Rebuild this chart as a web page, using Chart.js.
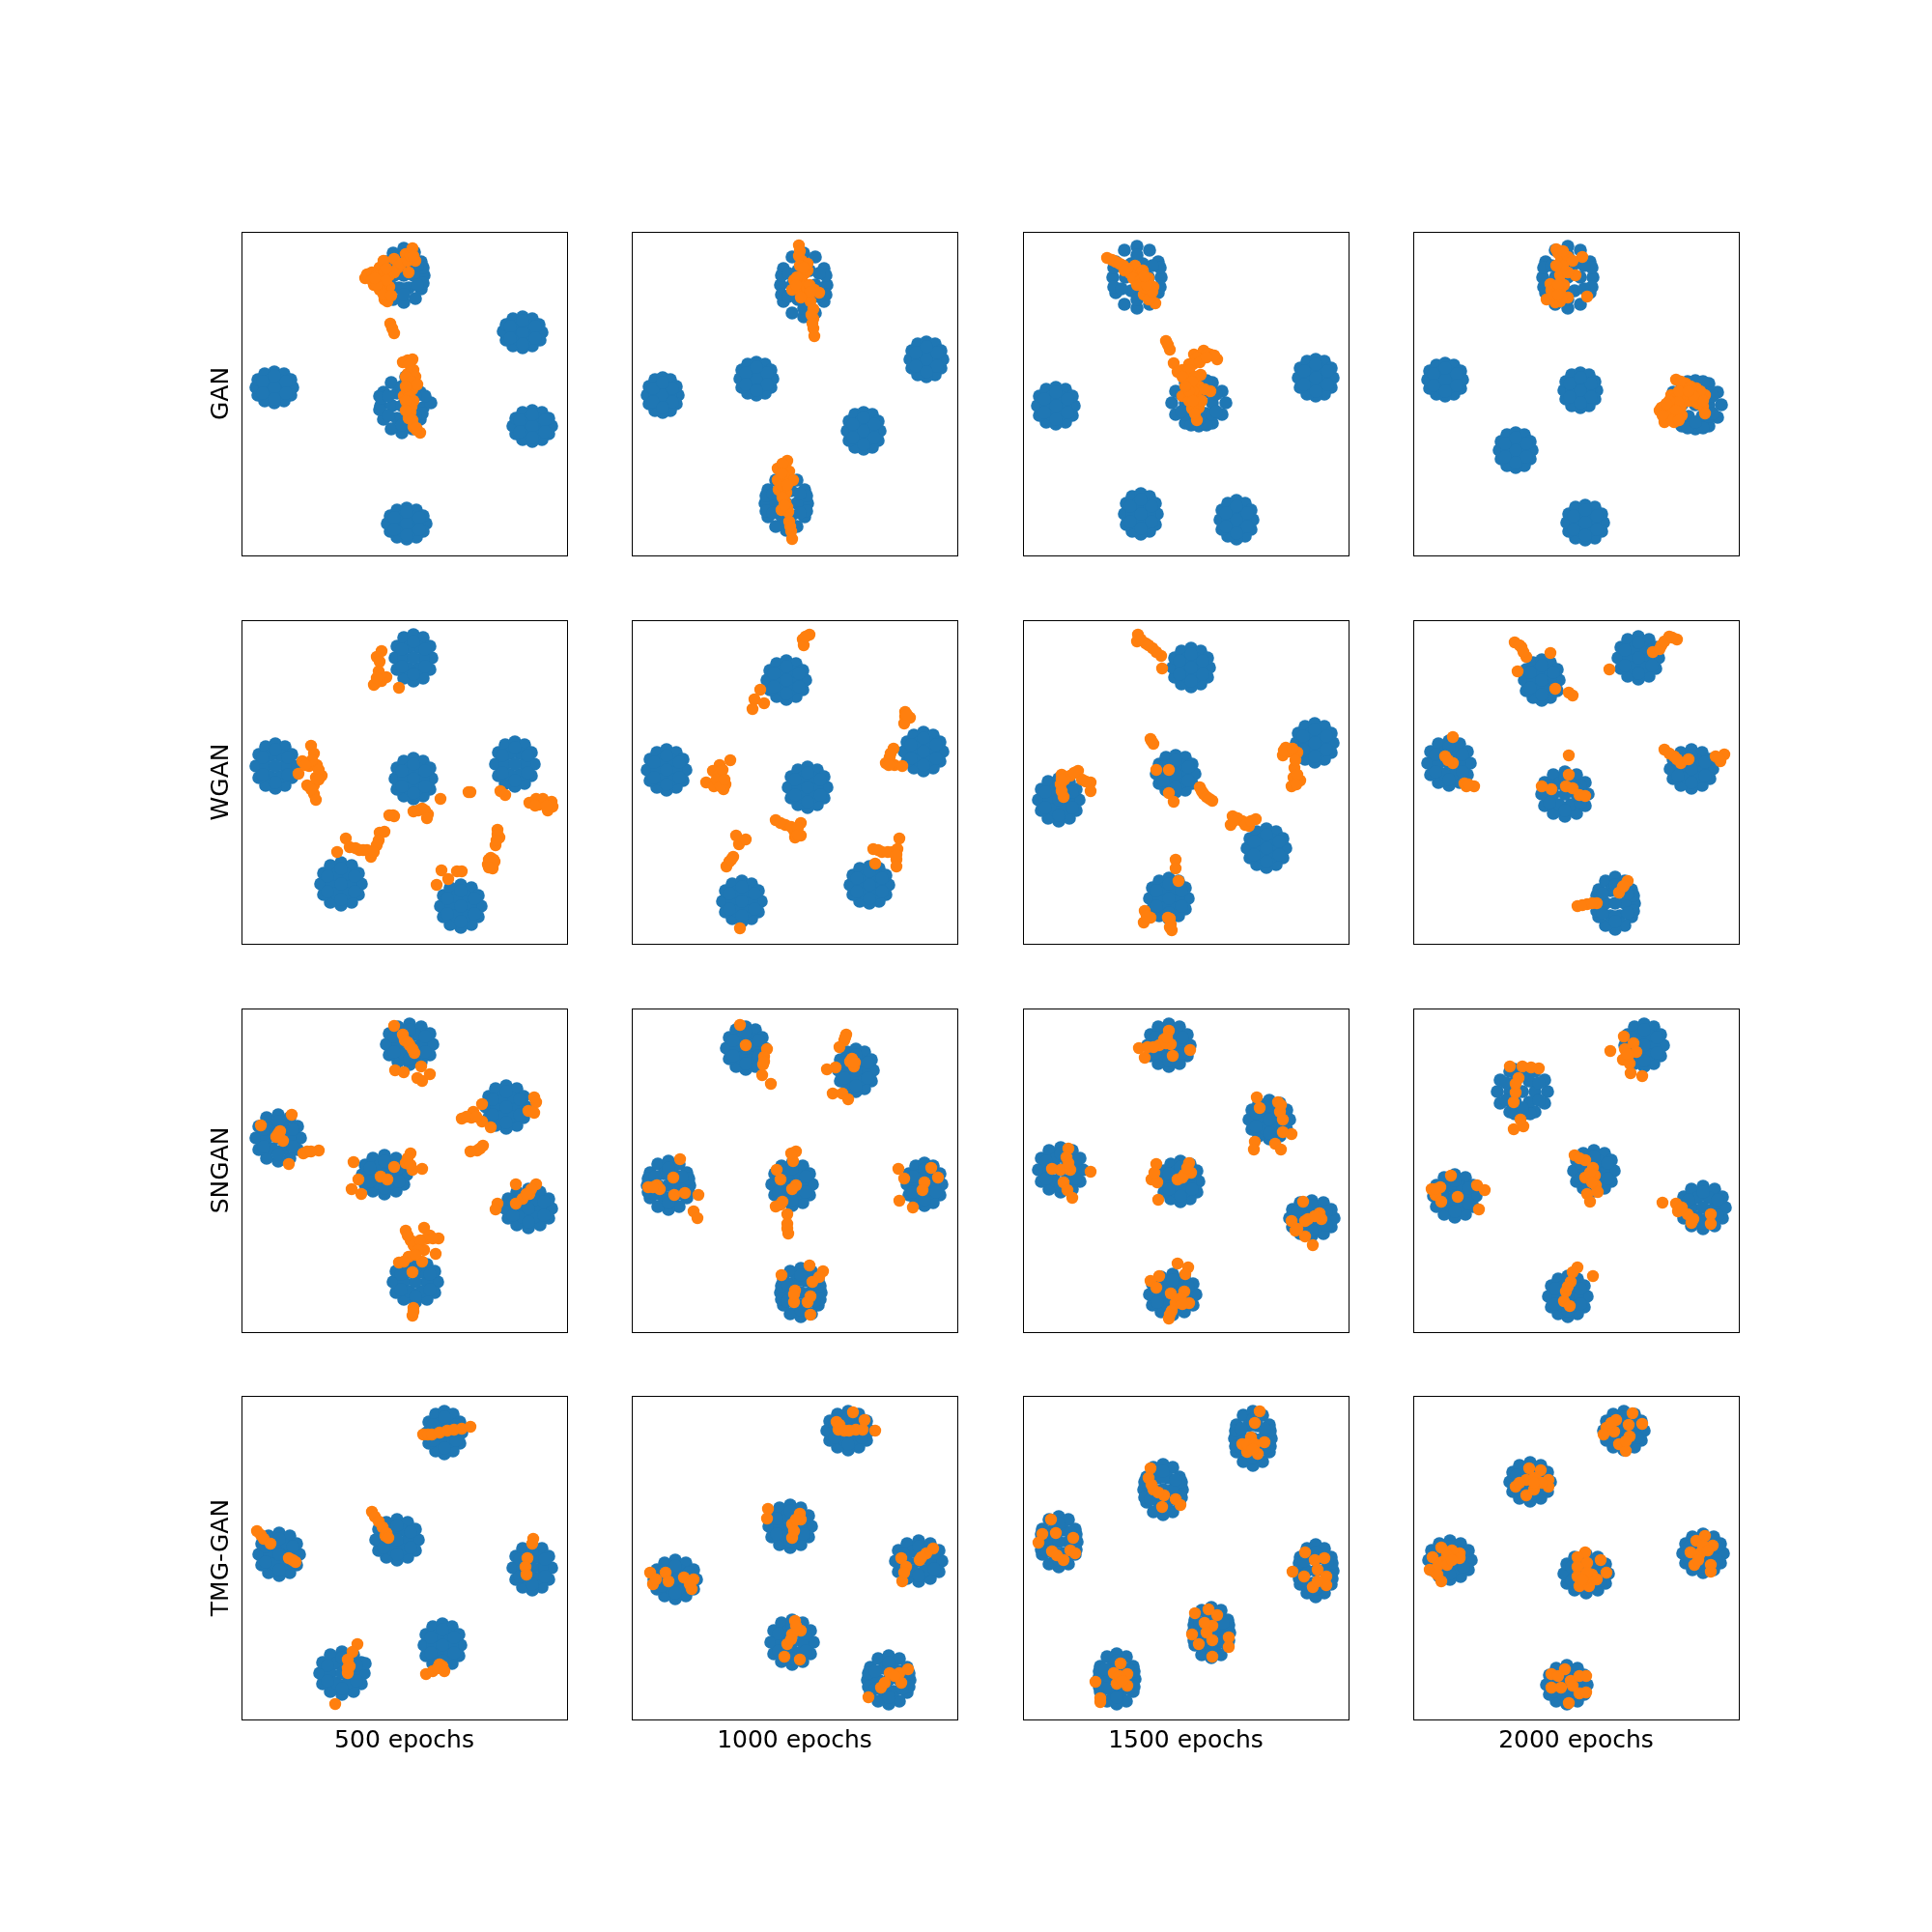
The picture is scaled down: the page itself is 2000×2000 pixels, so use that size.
<!DOCTYPE html>
<html><head><meta charset="utf-8">
<script src="https://cdn.jsdelivr.net/npm/chart.js@4"></script>
<style>html,body{margin:0;padding:0;background:#fff;width:2000px;height:2000px;overflow:hidden}canvas{position:absolute}</style>
</head><body>
<script>
const methods = ["GAN","WGAN","SNGAN","TMG-GAN"];
const epochs = ["500 epochs","1000 epochs","1500 epochs","2000 epochs"];

const GAN_500_BLUE = [
189,45,186,59,180,69,168,73,157,70,150,59,147,46,150,31,157,22,168,17,179,21,186,31,178,45,158,45,173,32,163,32,173,58,163,58,168,45,188,53,188,37,148,53,148,37,168,59,168,31,182,35,154,35,182,55,154,55,168,25,168,65,
311,104,309,112,301,118,291,120,281,118,274,112,271,103,274,96,281,90,291,88,301,90,308,96,301,104,281,104,296,97,286,97,296,111,286,111,291,104,304,98,278,98,304,110,278,110,291,92,291,116,
53,161,51,169,44,175,34,177,24,175,17,169,15,161,17,153,24,147,34,145,44,147,51,153,44,161,24,161,39,154,29,154,39,168,29,168,34,161,46,155,22,155,46,167,22,167,34,149,34,173,
188,182,185,194,177,204,166,208,155,204,147,194,144,180,147,166,155,156,170,150,177,156,185,166,176,180,156,180,171,167,161,167,171,193,161,193,166,180,196,177,190,170,143,170,143,184,187,188,145,172,166,194,166,166,180,170,152,170,180,190,152,190,166,160,166,200,
321,201,318,209,311,215,301,217,291,215,284,209,281,201,284,193,291,187,301,185,311,187,318,193,311,201,291,201,306,194,296,194,306,208,296,208,301,201,314,195,288,195,314,207,288,207,301,189,301,213,
191,302,188,310,181,316,171,318,161,316,154,310,151,302,154,294,161,288,171,286,181,288,188,294,181,302,161,302,176,295,166,295,176,309,166,309,171,302,184,296,158,296,184,308,158,308,171,290,171,314];
const GAN_500_ORANGE = [128,48,143,37,143,50,150,63,151,72,137,55,130,44,147,30,153,45,162,37,170,23,177,17,180,30,173,42,153,57,135,42,158,28,135,50,140,45,148,42,145,55,150,50,158,42,165,33,172,30,175,25,178,25,150,38,143,60,148,70,140,55,147,65,155,66,138,48,
154,95,156,100,158,105,
172,133,177,132,167,135,178,143,172,147,180,150,173,157,177,163,168,170,178,175,172,180,175,187,173,193,178,202,185,208,181,205,174,137,170,150,176,155,171,163,174,170,176,181,170,175,177,195,181,203,170,160,182,158,170,185];

const GAN_1000_BLUE = [
202,55,199,72,190,84,178,88,166,84,157,72,154,55,157,38,166,26,178,22,190,26,199,38,190,55,166,55,184,40,172,40,184,70,172,70,178,55,201,65,201,45,155,65,155,45,178,71,178,39,194,43,162,43,194,67,162,67,178,31,178,79,
322,132,320,141,314,148,305,150,296,148,290,141,288,132,290,123,296,116,305,114,314,116,320,123,314,132,296,132,309,124,301,124,309,140,301,140,305,132,316,125,294,125,316,139,294,139,305,119,305,145,
146,152,144,161,138,167,129,169,120,167,114,161,112,152,114,143,120,137,129,135,138,137,144,143,138,152,120,152,133,144,125,144,133,160,125,160,129,152,140,146,118,146,140,158,118,158,129,140,129,164,
48,169,46,178,40,185,32,187,24,185,18,178,16,169,18,160,24,153,32,151,40,153,46,160,40,169,24,169,36,161,28,161,36,177,28,177,32,169,42,162,22,162,42,176,22,176,32,156,32,182,
257,206,255,216,249,223,240,225,231,223,225,216,223,206,225,196,231,189,240,187,249,189,255,196,249,206,231,206,244,197,236,197,244,215,236,215,240,206,251,199,229,199,251,213,229,213,240,192,240,220,
182,281,179,295,171,305,160,309,149,305,141,295,138,281,141,267,149,257,160,253,171,257,179,267,171,281,149,281,165,268,155,268,165,294,155,294,160,281,181,289,181,273,139,289,139,273,160,295,160,267,174,271,146,271,174,291,146,291,160,261,160,301];
const GAN_1000_ORANGE = [173,14,174,20,176,30,182,40,179,43,168,50,166,60,177,63,189,60,194,63,185,72,188,80,188,90,188,100,189,108,176,50,173,25,182,33,174,35,178,37,172,56,180,56,184,55,183,67,171,47,186,86,187,95,170,55,185,62,175,68,
161,237,151,245,163,248,151,257,167,257,152,267,160,270,159,280,155,288,162,290,163,300,165,310,166,318,156,240,157,252,158,263,155,262,156,275,161,285,158,283,164,305,155,250,161,262];

const GAN_1500_BLUE = [
143,47,140,63,131,75,118,79,105,75,96,63,93,47,96,31,105,19,118,15,131,19,140,31,130,47,106,47,124,33,112,33,124,61,112,61,118,47,142,57,142,37,94,57,94,37,118,63,118,31,134,35,102,35,134,59,102,59,118,24,118,70,
53,180,51,190,44,197,34,199,24,197,17,190,15,180,17,170,24,163,34,161,44,163,51,170,44,180,24,180,39,171,29,171,39,189,29,189,34,180,46,173,22,173,46,187,22,187,34,166,34,194,
321,151,319,161,312,168,303,170,294,168,287,161,285,151,287,141,294,134,303,132,312,134,319,141,312,151,294,151,307,142,299,142,307,160,299,160,303,151,315,144,291,144,315,158,291,158,303,137,303,165,
210,177,206,189,196,198,182,201,168,198,158,189,154,177,158,165,168,156,182,153,196,156,206,165,196,177,168,177,189,166,175,166,189,188,175,188,182,177,190,200,174,200,190,154,174,154,196,165,168,165,196,189,168,189,200,168,164,168,200,186,164,186,182,160,182,194,
139,292,137,303,131,310,122,313,113,310,107,303,105,292,107,281,113,274,122,271,131,274,137,281,131,292,113,292,126,282,118,282,126,302,118,302,122,292,133,284,111,284,133,300,111,300,122,277,122,307,
238,298,236,308,230,315,221,318,212,315,206,308,204,298,206,288,212,281,221,278,230,281,236,288,230,298,212,298,225,289,217,289,225,307,217,307,221,298,232,291,210,291,232,305,210,305,221,284,221,312];
const GAN_1500_ORANGE = [87,27,96,31,104,35,116,35,111,43,118,55,130,48,135,57,125,65,137,74,132,68,123,42,92,29,100,33,108,38,114,48,122,50,124,40,127,58,130,70,134,62,105,40,120,55,128,55,126,46,
148,113,152,122,156,136,177,127,187,123,201,132,194,127,172,137,165,143,184,148,168,153,182,160,165,170,194,165,179,170,175,183,182,182,180,195,150,117,160,145,180,130,191,126,198,128,176,137,172,143,170,160,178,150,176,165,188,163,172,175,178,188,165,150,175,155,172,165,185,175,176,175,183,135,190,130,168,160];

const GAN_2000_BLUE = [
186,47,183,63,173,75,160,79,147,75,137,63,134,47,137,31,147,19,160,15,173,19,183,31,173,47,147,47,167,33,153,33,167,61,153,61,160,47,185,57,185,37,135,57,135,37,160,63,160,31,177,35,143,35,177,59,143,59,160,24,160,70,
51,153,49,162,42,168,33,170,24,168,17,162,15,153,17,144,24,138,33,136,42,138,49,144,42,153,24,153,37,145,29,145,37,161,29,161,33,153,45,147,21,147,45,159,21,159,33,141,33,165,
190,164,188,173,182,180,173,182,164,180,158,173,156,164,158,155,164,148,173,146,182,148,188,155,182,164,164,164,177,156,169,156,177,172,169,172,173,164,184,157,162,157,184,171,162,171,173,151,173,177,
123,226,121,235,115,242,106,244,97,242,91,235,89,226,91,217,97,210,106,208,115,210,121,217,115,226,97,226,110,218,102,218,110,234,102,234,106,226,117,219,95,219,117,233,95,233,106,213,106,239,
319,179,315,192,306,201,292,204,278,201,269,192,265,179,269,166,278,157,292,154,306,157,315,166,306,179,278,179,299,167,285,167,299,191,285,191,292,179,300,203,284,203,300,155,284,155,306,167,278,167,306,191,278,191,310,170,274,170,310,188,274,188,292,161,292,197,
197,301,195,310,188,317,178,319,168,317,161,310,159,301,161,292,168,285,178,283,188,285,195,292,188,301,168,301,183,293,173,293,183,309,173,309,178,301,190,294,166,294,190,308,166,308,178,288,178,314];
const GAN_2000_ORANGE = [148,18,153,28,175,26,160,26,152,45,168,45,160,42,142,54,138,70,147,73,160,68,152,61,180,67,143,61,150,22,155,35,148,35,156,55,146,60,152,72,154,68,155,20,165,30,150,55,145,65,150,65,
272,153,282,157,293,162,302,169,267,169,280,169,292,176,300,181,302,188,257,182,267,181,277,181,260,197,270,197,278,190,263,188,277,155,287,160,297,165,272,172,285,175,295,178,275,175,265,175,300,175,265,190,272,185,255,185,283,168,268,195,290,170,275,165,285,165,262,178,258,190,275,195];

const WGAN_500_BLUE = [
197,39,195,51,188,60,178,63,168,60,161,51,159,39,161,27,168,18,178,15,188,18,195,27,188,39,168,39,183,28,173,28,183,50,173,50,178,39,190,30,166,30,190,48,166,48,178,22,178,56,
55,151,52,163,45,171,35,174,25,171,18,163,15,151,18,139,25,131,35,128,45,131,52,139,45,151,25,151,40,140,30,140,40,162,30,162,35,151,48,142,22,142,48,160,22,160,35,134,35,168,
197,164,195,175,188,182,178,185,168,182,161,175,159,164,161,153,168,146,178,143,188,146,195,153,188,164,168,164,183,154,173,154,183,174,173,174,178,164,190,156,166,156,190,172,166,172,178,149,178,179,
303,149,300,161,293,169,283,172,273,169,266,161,263,149,266,137,273,129,283,126,293,129,300,137,293,149,273,149,288,138,278,138,288,160,278,160,283,149,296,140,270,140,296,158,270,158,283,132,283,166,
124,273,121,284,114,292,103,295,92,292,85,284,82,273,85,262,92,254,103,251,114,254,121,262,113,273,93,273,108,263,98,263,108,283,98,283,103,273,117,265,89,265,117,281,89,281,103,257,103,289,
248,296,245,307,238,315,227,318,216,315,209,307,206,296,209,285,216,277,227,274,238,277,245,285,237,296,217,296,232,286,222,286,232,306,222,306,227,296,241,288,213,288,241,304,213,304,227,280,227,312];
const WGAN_500_ORANGE = [145,32,140,38,143,43,142,53,150,59,145,63,137,67,139,65,163,70,143,58,140,60,
72,130,75,138,63,146,70,151,78,150,59,159,83,161,77,163,68,171,75,171,75,180,77,186,73,145,66,150,80,155,80,165,72,175,
206,185,237,178,268,177,273,181,298,189,305,185,312,185,308,191,317,197,321,188,322,193,313,190,304,192,316,192,235,178,
187,195,178,198,193,201,157,202,158,203,153,202,183,197,190,197,192,205,
143,220,148,219,142,228,108,226,112,235,122,238,130,238,134,245,140,233,99,240,118,236,126,238,137,240,
265,217,267,225,263,233,258,246,255,253,260,257,261,248,256,248,262,250,256,256,265,222,264,228,
207,259,214,268,202,274,223,260,228,260];

const WGAN_1000_BLUE = [
180,62,177,72,170,79,160,82,150,79,143,72,140,62,143,52,150,45,160,42,170,45,177,52,170,62,150,62,165,53,155,53,165,71,155,71,160,62,173,55,147,55,173,69,147,69,160,48,160,76,
322,136,319,146,312,153,302,156,292,153,285,146,282,136,285,126,292,119,302,116,312,119,319,126,312,136,292,136,307,127,297,127,307,145,297,145,302,136,315,129,289,129,315,143,289,143,302,122,302,150,
56,155,53,166,46,173,36,176,26,173,19,166,16,155,19,144,26,137,36,134,46,137,53,144,46,155,26,155,41,145,31,145,41,165,31,165,36,155,49,147,23,147,49,163,23,163,36,140,36,170,
202,173,199,184,192,191,182,194,172,191,165,184,162,173,165,162,172,155,182,152,192,155,199,162,192,173,172,173,187,163,177,163,187,183,177,183,182,173,195,165,169,165,195,181,169,181,182,158,182,188,
266,274,263,284,256,291,246,293,236,291,229,284,226,274,229,264,236,257,246,255,256,257,263,264,256,274,236,274,251,265,241,265,251,283,241,283,246,274,259,267,233,267,259,281,233,281,246,260,246,288,
134,291,131,302,124,309,114,312,104,309,97,302,94,291,97,280,104,273,114,270,124,273,131,280,124,291,104,291,119,281,109,281,119,301,109,301,114,291,127,283,101,283,127,299,101,299,114,276,114,306];
const WGAN_1000_ORANGE = [184,15,177,20,178,26,180,17,
133,72,127,82,137,86,125,92,
283,95,283,100,288,101,282,107,285,98,
271,133,267,142,263,148,272,150,280,151,268,138,266,150,
102,145,91,150,84,156,90,160,77,168,85,172,97,170,95,175,94,155,88,165,92,172,96,165,
149,207,159,212,175,210,168,218,175,223,169,225,154,210,165,214,172,215,172,222,
108,223,111,232,118,227,
105,245,101,250,98,255,103,248,
277,226,250,237,259,240,270,240,275,237,274,248,274,255,252,252,255,238,265,240,274,243,
112,319];

const WGAN_1500_BLUE = [
193,49,191,59,184,66,174,69,164,66,157,59,155,49,157,39,164,32,174,29,184,32,191,39,184,49,164,49,179,40,169,40,179,58,169,58,174,49,186,42,162,42,186,56,162,56,174,35,174,63,
321,127,319,137,312,144,302,147,292,144,285,137,283,127,285,117,292,110,302,107,312,110,319,117,312,127,292,127,307,118,297,118,307,136,297,136,302,127,314,120,290,120,314,134,290,134,302,113,302,141,
178,159,175,169,168,176,158,178,148,176,141,169,138,159,141,149,148,142,158,140,168,142,175,149,168,159,148,159,163,150,153,150,163,168,153,168,158,159,171,152,145,152,171,166,145,166,158,145,158,173,
58,186,55,197,48,205,37,208,26,205,19,197,16,186,19,175,26,167,37,164,48,167,55,175,47,186,27,186,42,176,32,176,42,196,32,196,37,186,51,178,23,178,51,194,23,194,37,170,37,202,
272,236,269,246,262,253,252,256,242,253,235,246,232,236,235,226,242,219,252,216,262,219,269,226,262,236,242,236,257,227,247,227,257,245,247,245,252,236,265,229,239,229,265,243,239,243,252,222,252,250,
171,288,168,299,161,306,151,309,141,306,134,299,131,288,134,277,141,270,151,267,161,270,168,277,161,288,141,288,156,278,146,278,156,298,146,298,151,288,164,280,138,280,164,296,138,296,151,273,151,303];
const WGAN_1500_ORANGE = [119,15,118,22,127,24,134,29,143,37,144,50,122,20,130,26,138,33,
132,123,135,128,133,125,138,155,151,155,151,179,156,188,183,173,187,180,196,187,185,177,190,183,193,185,
40,160,49,161,57,156,39,170,42,183,61,165,70,168,70,177,40,177,43,165,40,165,53,158,65,167,
272,132,269,140,284,137,281,153,287,166,278,172,280,163,276,136,270,135,279,133,282,145,284,160,283,170,
217,203,215,212,227,208,241,206,234,213,222,205,218,208,230,212,236,208,
158,248,158,257,161,270,
126,301,125,313,132,308,150,308,153,315,154,321,152,309,152,318,128,306];

const WGAN_2000_BLUE = [
151,62,149,73,142,80,133,83,124,80,117,73,115,62,117,51,124,44,133,41,142,44,149,51,142,62,124,62,137,52,129,52,137,72,129,72,133,62,145,54,121,54,145,70,121,70,133,47,133,77,
254,39,251,50,244,58,233,61,222,58,215,50,212,39,215,28,222,20,233,17,244,20,251,28,243,39,223,39,238,29,228,29,238,49,228,49,233,39,247,31,219,31,247,47,219,47,233,23,233,55,
59,148,56,160,48,168,37,171,26,168,18,160,15,148,18,136,26,128,37,125,48,128,56,136,48,148,26,148,42,137,32,137,42,159,32,159,37,148,51,139,23,139,51,157,23,157,37,131,37,165,
181,180,178,192,169,200,157,203,145,200,136,192,133,180,136,168,145,160,157,157,169,160,178,168,169,180,145,180,163,169,151,169,163,191,151,191,157,180,173,171,141,171,173,189,141,189,157,163,157,197,
310,154,307,164,299,171,288,174,277,171,269,164,266,154,269,144,277,137,288,134,299,137,307,144,299,154,277,154,293,145,283,145,293,163,283,163,288,154,302,147,274,147,302,161,274,161,288,140,288,168,
229,293,226,307,219,316,209,320,199,316,192,307,189,293,192,279,199,270,209,266,219,270,226,279,219,293,199,293,214,280,204,280,214,306,204,306,209,293,228,301,228,285,190,301,190,285,209,307,209,279,222,283,196,283,222,303,196,303,209,274,209,312];
const WGAN_2000_ORANGE = [105,23,112,28,117,38,142,34,108,53,147,71,161,75,165,78,110,26,114,33,
203,51,248,33,257,26,265,17,273,20,255,30,260,22,268,18,
41,121,33,141,41,148,53,169,63,172,55,172,36,145,57,170,
161,140,133,172,143,175,161,160,158,172,165,174,172,181,178,182,
260,134,270,141,277,148,285,144,313,141,322,139,318,146,265,138,273,144,316,143,
170,296,180,294,190,293,213,282,222,270,217,276,175,295,185,293,218,275];

const SNGAN_500_BLUE = [
198,37,195,48,186,55,174,58,162,55,153,48,150,37,153,26,162,19,174,16,186,19,195,26,186,37,162,37,180,27,168,27,180,47,168,47,174,37,190,29,158,29,190,45,158,45,174,22,174,52,
295,102,292,113,285,121,274,124,263,121,256,113,253,102,256,91,263,83,274,80,285,83,292,91,284,102,264,102,279,92,269,92,279,112,269,112,274,102,288,94,260,94,288,110,260,110,274,86,274,118,
61,134,58,146,50,155,38,158,26,155,18,146,15,134,18,122,26,113,38,110,50,113,58,122,50,134,26,134,44,123,32,123,44,145,32,145,38,134,53,125,23,125,53,143,23,143,38,117,38,151,
171,172,168,182,160,189,148,192,136,189,128,182,125,172,128,162,136,155,148,152,160,155,168,162,160,172,136,172,154,163,142,163,154,181,142,181,148,172,163,165,133,165,163,179,133,179,148,158,148,186,
321,207,318,217,309,224,297,227,285,224,276,217,273,207,276,197,285,190,297,187,309,190,318,197,309,207,285,207,303,198,291,198,303,216,291,216,297,207,313,200,281,200,313,214,281,214,297,193,297,221,
203,283,200,294,192,301,180,304,168,301,160,294,157,283,160,272,168,265,180,262,192,265,200,272,192,283,168,283,186,273,174,273,186,293,174,293,180,283,195,275,165,275,195,291,165,291,180,268,180,298];
const SNGAN_500_ORANGE = [158,18,167,27,169,33,174,38,179,46,186,60,159,64,168,66,182,72,187,75,195,68,172,35,177,42,
52,110,20,121,40,127,36,133,43,137,49,161,68,148,80,147,64,150,38,130,72,148,
116,159,158,164,144,174,151,177,175,150,170,160,177,167,187,166,121,177,114,187,124,192,172,155,175,162,
249,99,240,107,228,114,238,113,249,117,258,123,297,106,303,92,305,97,303,108,233,112,243,112,
250,142,244,147,237,148,247,145,
284,182,305,182,298,192,291,197,284,202,265,202,263,208,300,187,295,192,
170,230,189,227,175,240,192,238,204,238,180,248,189,250,201,254,163,263,173,257,187,262,177,273,178,310,177,318,172,235,178,245,185,240,195,235,198,238,183,250,180,255,168,262,178,314];

const SNGAN_1000_BLUE = [
138,41,135,52,128,60,118,63,108,60,101,52,98,41,101,30,108,22,118,19,128,22,135,30,128,41,108,41,123,31,113,31,123,51,113,51,118,41,131,33,105,33,131,49,105,49,118,25,118,57,
250,64,248,75,241,83,232,86,223,83,216,75,214,64,216,53,223,45,232,42,241,45,248,53,241,64,223,64,236,54,228,54,236,74,228,74,232,64,244,56,220,56,244,72,220,72,232,48,232,80,
60,183,57,196,49,205,38,208,27,205,19,196,16,183,19,170,27,161,38,158,49,161,57,170,49,183,27,183,43,171,33,171,43,195,33,195,38,183,59,190,59,176,17,190,17,176,38,196,38,170,52,174,24,174,52,192,24,192,38,165,38,201,
187,182,184,193,177,201,166,204,155,201,148,193,145,182,148,171,155,163,166,160,177,163,184,171,176,182,156,182,171,172,161,172,171,192,161,192,166,182,180,174,152,174,180,190,152,190,166,166,166,198,
321,182,319,193,312,201,303,204,294,201,287,193,285,182,287,171,294,163,303,160,312,163,319,171,312,182,294,182,307,172,299,172,307,192,299,192,303,182,315,174,291,174,315,190,291,190,303,166,303,198,
196,294,193,307,186,316,175,319,164,316,157,307,154,294,157,281,164,272,175,269,186,272,193,281,185,294,165,294,180,282,170,282,180,306,170,306,175,294,195,301,195,287,155,301,155,287,175,307,175,281,189,285,161,285,189,303,161,303,175,276,175,312];
const SNGAN_1000_ORANGE = [112,17,118,38,140,42,137,50,136,58,135,69,144,78,137,55,
222,27,220,33,215,40,211,61,202,63,228,52,230,60,208,88,218,88,224,94,221,30,226,55,231,56,
50,156,43,175,26,183,17,185,29,187,44,193,55,191,69,193,64,210,68,217,22,185,
170,148,167,158,150,167,154,177,170,183,166,187,156,200,149,205,161,213,161,223,162,233,161,228,154,203,165,150,
276,166,282,176,310,165,317,175,303,180,301,188,277,199,291,206,
184,266,198,272,194,278,187,283,155,276,169,292,168,304,182,304,185,317,185,298,168,296];

const SNGAN_1500_BLUE = [
173,38,170,49,162,57,151,60,140,57,132,49,129,38,132,27,140,19,151,16,162,19,170,27,162,38,140,38,156,28,146,28,156,48,146,48,151,38,165,30,137,30,165,46,137,46,151,22,151,54,
276,115,273,125,266,132,255,135,244,132,237,125,234,115,237,105,244,98,255,95,266,98,273,105,265,115,245,115,260,106,250,106,260,124,250,124,255,115,269,108,241,108,269,122,241,122,255,101,255,129,
62,167,59,179,51,187,39,190,27,187,19,179,16,167,19,155,27,147,39,144,51,147,59,155,51,167,27,167,45,156,33,156,45,178,33,178,39,167,54,158,24,158,54,176,24,176,39,150,39,184,
182,179,180,190,173,197,163,200,153,197,146,190,144,179,146,168,153,161,163,158,173,161,180,168,173,179,153,179,168,169,158,169,168,189,158,189,163,179,175,171,151,171,175,187,151,187,163,164,163,194,
322,217,319,226,311,233,299,235,287,233,279,226,276,217,279,208,287,201,299,199,311,201,319,208,311,217,287,217,305,209,293,209,305,225,293,225,299,217,314,210,284,210,314,224,284,224,299,204,299,230,
179,296,176,307,167,314,155,317,143,314,134,307,131,296,134,285,143,278,155,275,167,278,176,285,167,296,143,296,161,286,149,286,161,306,149,306,155,296,171,288,139,288,171,304,139,304,155,281,155,311];
const SNGAN_1500_ORANGE = [120,41,129,40,126,51,141,38,151,23,146,32,153,37,155,49,173,43,135,40,148,36,149,30,
242,92,245,103,264,97,266,107,269,115,269,128,278,130,240,138,239,146,261,140,267,146,267,100,
47,145,45,154,30,166,39,167,49,167,42,180,46,188,51,196,70,169,47,160,
138,161,133,177,139,180,140,198,172,160,167,172,160,177,174,170,136,170,165,175,170,165,
290,200,278,220,282,230,292,236,300,245,295,218,307,212,309,218,284,228,292,220,302,215,
160,264,171,268,141,277,132,282,138,289,168,275,153,295,167,293,158,305,172,305,154,313,151,321,163,300,165,306,152,317];

const SNGAN_2000_BLUE = [
259,38,256,49,249,57,239,60,229,57,222,49,219,38,222,27,229,19,239,16,249,19,256,27,249,38,229,38,244,28,234,28,244,48,234,48,239,38,252,30,226,30,252,46,226,46,239,22,239,54,
139,86,136,98,126,107,113,110,100,107,90,98,87,86,90,74,100,65,113,62,126,65,136,74,126,86,100,86,120,75,106,75,120,97,106,97,113,86,121,109,105,109,121,63,105,63,130,77,96,77,130,95,96,95,113,69,113,103,
208,168,205,179,198,186,187,189,176,186,169,179,166,168,169,157,176,150,187,147,198,150,205,157,197,168,177,168,192,158,182,158,192,178,182,178,187,168,201,160,173,160,201,176,173,176,187,153,187,183,
65,194,62,205,54,213,43,216,32,213,24,205,21,194,24,183,32,175,43,172,54,175,62,183,54,194,32,194,48,184,38,184,48,204,38,204,43,194,57,186,29,186,57,202,29,202,43,178,43,210,
323,206,320,217,312,225,300,228,288,225,280,217,277,206,280,195,288,187,300,184,312,187,320,195,312,206,288,206,306,196,294,196,306,216,294,216,300,206,315,198,285,198,315,214,285,214,300,190,300,222,
180,298,177,309,170,316,160,319,150,316,143,309,140,298,143,287,150,280,160,277,170,280,177,287,170,298,150,298,165,288,155,288,165,308,155,308,160,298,173,290,147,290,173,306,147,306,160,283,160,313];
const SNGAN_2000_ORANGE = [218,29,228,36,204,44,219,42,231,45,217,53,224,57,225,67,237,70,223,48,221,47,
100,60,113,60,130,62,109,72,106,87,104,97,111,115,104,125,114,122,122,61,106,78,
167,152,178,157,186,165,178,175,188,173,189,183,180,192,191,190,183,200,172,155,183,170,185,180,
39,173,19,187,28,185,23,193,29,200,46,195,66,183,74,188,68,208,23,187,
258,201,272,202,274,210,284,213,288,222,308,213,308,223,290,218,278,206,
170,268,165,273,163,283,158,293,186,277,156,303,162,308,160,288];

const TMG_500_BLUE = [
228,38,226,49,219,57,210,60,201,57,194,49,192,38,194,27,201,19,210,16,219,19,226,27,219,38,201,38,214,28,206,28,214,48,206,48,210,38,222,30,198,30,222,46,198,46,210,22,210,54,
183,149,180,160,172,167,161,170,150,167,142,160,139,149,142,138,150,131,161,128,172,131,180,138,172,149,150,149,166,139,156,139,166,159,156,159,161,149,175,141,147,141,175,157,147,157,161,134,161,164,
60,164,57,175,50,183,39,186,28,183,21,175,18,164,21,153,28,145,39,142,50,145,57,153,49,164,29,164,44,154,34,154,44,174,34,174,39,164,53,156,25,156,53,172,25,172,39,148,39,180,
321,178,318,190,311,198,301,201,291,198,284,190,281,178,284,166,291,158,301,155,311,158,318,166,311,178,291,178,306,167,296,167,306,189,296,189,301,178,314,169,288,169,314,187,288,187,301,161,301,195,
227,258,225,269,218,277,208,280,198,277,191,269,189,258,191,247,198,239,208,236,218,239,225,247,218,258,198,258,213,248,203,248,213,268,203,268,208,258,220,250,196,250,220,266,196,266,208,242,208,274,
127,287,124,298,116,306,104,309,92,306,84,298,81,287,84,276,92,268,104,265,116,268,124,276,116,287,92,287,110,277,98,277,110,297,98,297,104,287,128,277,119,279,89,279,119,295,89,295,104,271,104,303];
const TMG_500_ORANGE = [188,40,193,40,197,40,205,38,213,36,220,35,228,34,237,32,
135,120,138,125,142,130,146,136,149,145,150,142,152,147,
16,140,20,144,23,148,30,153,49,168,53,170,56,172,
302,148,301,153,296,168,294,177,295,185,
120,257,115,265,110,273,110,287,112,280,110,282,191,288,198,285,205,278,208,280,203,282,210,285,97,319];

const TMG_1000_BLUE = [
246,36,243,46,235,53,224,56,213,53,205,46,202,36,205,26,213,19,224,16,235,19,243,26,235,36,213,36,229,27,219,27,229,45,219,45,224,36,238,29,210,29,238,43,210,43,224,22,224,50,
186,135,183,146,175,154,164,157,153,154,145,146,142,135,145,124,153,116,164,113,175,116,183,124,175,135,153,135,169,125,159,125,169,145,159,145,164,135,178,127,150,127,178,143,150,143,164,119,164,151,
67,190,64,200,56,207,45,210,34,207,26,200,23,190,26,180,34,173,45,170,56,173,64,180,56,190,34,190,50,181,40,181,50,199,40,199,45,190,59,183,31,183,59,197,31,197,45,176,45,204,
321,171,318,182,309,189,297,192,285,189,276,182,273,171,276,160,285,153,297,150,309,153,318,160,309,171,285,171,303,161,291,161,303,181,291,181,297,171,313,163,281,163,313,179,281,179,297,156,297,186,
188,255,185,267,177,275,166,278,155,275,147,267,144,255,147,243,155,235,166,232,177,235,185,243,177,255,155,255,171,244,161,244,171,266,161,266,166,255,180,246,152,246,180,264,152,264,166,238,166,272,
288,294,285,307,277,316,266,319,255,316,247,307,244,294,247,281,255,272,266,269,277,272,285,281,277,294,255,294,271,282,261,282,271,306,261,306,266,294,287,301,287,287,245,301,245,287,266,307,266,281,280,285,252,285,280,303,252,303,266,276,266,312];
const TMG_1000_ORANGE = [229,17,212,27,214,35,232,35,241,25,239,35,252,36,215,30,220,36,225,36,
141,117,140,127,174,122,166,133,166,147,175,128,170,128,168,140,
19,183,22,195,35,183,38,192,54,188,64,190,62,200,25,190,60,195,
279,168,284,177,280,192,298,170,312,158,305,163,282,183,300,167,
169,233,175,243,166,247,161,257,158,270,174,273,170,238,165,252,
267,287,286,283,277,287,279,297,258,302,245,312,272,290,262,297];

const TMG_1500_BLUE = [
257,44,255,58,248,68,238,72,228,68,221,58,219,44,221,30,228,20,238,16,248,20,255,30,248,44,228,44,243,31,233,31,243,57,233,57,238,44,256,52,256,36,220,52,220,36,238,58,238,30,250,34,226,34,250,54,226,54,238,24,238,64,
165,97,162,110,155,120,145,123,135,120,128,110,125,97,128,84,135,74,145,71,155,74,162,84,155,97,135,97,150,85,140,85,150,109,140,109,145,97,164,105,164,89,126,105,126,89,145,110,145,84,158,87,132,87,158,107,132,107,145,78,145,116,
56,151,54,164,47,174,37,177,27,174,20,164,18,151,20,138,27,128,37,125,47,128,54,138,47,151,27,151,42,139,32,139,42,163,32,163,37,151,55,159,55,143,19,159,19,143,37,164,37,138,49,141,25,141,49,161,25,161,37,132,37,170,
321,181,319,195,312,204,303,208,294,204,287,195,285,181,287,167,294,158,303,154,312,158,319,167,312,181,294,181,307,168,299,168,307,194,299,194,303,181,320,189,320,173,286,189,286,173,303,195,303,167,315,171,291,171,315,191,291,191,303,162,303,200,
214,245,212,258,205,268,195,271,185,268,178,258,176,245,178,232,185,222,195,219,205,222,212,232,205,245,185,245,200,233,190,233,200,257,190,257,195,245,213,253,213,237,177,253,177,237,195,258,195,232,207,235,183,235,207,255,183,255,195,226,195,264,
116,293,114,306,107,316,97,319,87,316,80,306,78,293,80,280,87,270,97,267,107,270,114,280,107,293,87,293,102,281,92,281,102,305,92,305,97,293,115,301,115,285,79,301,79,285,97,306,97,280,109,283,85,283,109,303,85,303,97,274,97,312];
const TMG_1500_ORANGE = [245,16,240,28,236,43,227,50,250,48,232,58,243,60,235,48,232,50,240,50,238,55,
132,75,130,85,135,97,146,103,158,107,144,115,163,113,133,92,140,100,
29,128,34,142,20,143,16,152,52,147,49,160,30,161,42,170,54,163,35,165,
292,162,302,170,312,168,279,182,291,187,305,180,314,187,300,198,314,196,305,192,
178,225,192,221,201,227,196,238,175,247,182,257,196,253,213,250,213,260,196,270,188,235,190,245,
101,277,94,287,108,288,97,298,108,300,75,296,80,317,80,313,100,290,103,295];

const TMG_2000_BLUE = [
239,36,236,46,229,53,218,56,207,53,200,46,197,36,200,26,207,19,218,16,229,19,236,26,228,36,208,36,223,27,213,27,223,45,213,45,218,36,232,29,204,29,232,43,204,43,218,22,218,50,
142,89,139,99,132,106,121,109,110,106,103,99,100,89,103,79,110,72,121,69,132,72,139,79,131,89,111,89,126,80,116,80,126,98,116,98,121,89,135,82,107,82,135,96,107,96,121,75,121,103,
60,170,57,180,49,187,38,190,27,187,19,180,16,170,19,160,27,153,38,150,49,153,57,160,49,170,27,170,43,161,33,161,43,179,33,179,38,170,52,163,24,163,52,177,24,177,38,156,38,184,
202,184,199,194,191,201,179,204,167,201,159,194,156,184,159,174,167,167,179,164,191,167,199,174,191,184,167,184,185,175,173,175,185,193,173,193,179,184,194,177,164,177,194,191,164,191,179,170,179,198,
321,163,318,173,311,180,300,183,289,180,282,173,279,163,282,153,289,146,300,143,311,146,318,153,310,163,290,163,305,154,295,154,305,172,295,172,300,163,314,156,286,156,314,170,286,170,300,149,300,177,
180,299,177,309,170,316,159,319,148,316,141,309,138,299,141,289,148,282,159,279,170,282,177,289,169,299,149,299,164,290,154,290,164,308,154,308,159,299,173,292,145,292,173,306,145,306,159,285,159,313];
const TMG_2000_ORANGE = [210,25,200,33,197,40,208,37,227,18,223,30,237,29,224,42,213,50,220,57,220,47,205,28,
120,75,132,77,117,87,106,94,117,103,125,97,140,87,140,94,128,88,125,85,133,90,125,90,110,90,
29,157,40,160,48,163,20,167,30,172,17,180,29,192,48,168,23,183,35,165,26,175,35,175,40,170,25,185,
178,162,170,167,180,173,194,170,200,183,170,177,172,197,182,197,190,190,170,187,178,190,185,185,180,183,175,190,
293,150,302,145,287,162,310,155,297,163,291,175,308,175,308,182,300,157,300,155,305,160,295,170,
143,288,157,283,143,302,153,302,163,295,172,290,179,290,172,308,179,307,161,318,150,290,165,300];

const BLUE_GRID = [[GAN_500_BLUE,GAN_1000_BLUE,GAN_1500_BLUE,GAN_2000_BLUE],[WGAN_500_BLUE,WGAN_1000_BLUE,WGAN_1500_BLUE,WGAN_2000_BLUE],[SNGAN_500_BLUE,SNGAN_1000_BLUE,SNGAN_1500_BLUE,SNGAN_2000_BLUE],[TMG_500_BLUE,TMG_1000_BLUE,TMG_1500_BLUE,TMG_2000_BLUE]];
const ORANGE_GRID = [[GAN_500_ORANGE,GAN_1000_ORANGE,GAN_1500_ORANGE,GAN_2000_ORANGE],[WGAN_500_ORANGE,WGAN_1000_ORANGE,WGAN_1500_ORANGE,WGAN_2000_ORANGE],[SNGAN_500_ORANGE,SNGAN_1000_ORANGE,SNGAN_1500_ORANGE,SNGAN_2000_ORANGE],[TMG_500_ORANGE,TMG_1000_ORANGE,TMG_1500_ORANGE,TMG_2000_ORANGE]];

const pairs = a => { const o = []; for (let i = 0; i + 1 < a.length; i += 2) o.push({x: a[i], y: a[i + 1]}); return o; };
const frame = { id: 'frame', afterDatasetsDraw(c) { const a = c.chartArea, g = c.ctx; g.save(); g.strokeStyle = '#000'; g.lineWidth = 1; g.strokeRect(a.left + .5, a.top + .5, a.right - a.left, a.bottom - a.top); g.restore(); } };
const LEFT = 60, BOTTOM = 50, PAD = 2, W = 337, H = 335;
const X0 = [250, 654, 1059, 1463], Y0 = [240, 642, 1044, 1445];
const font = { family: 'DejaVu Sans', size: 25 };
methods.forEach((m, r) => epochs.forEach((e, c) => {
  const cv = document.createElement('canvas');
  cv.width = LEFT + W + PAD; cv.height = PAD + H + BOTTOM;
  cv.style.left = (X0[c] - LEFT) + 'px'; cv.style.top = (Y0[r] - PAD) + 'px';
  document.body.appendChild(cv);
  new Chart(cv, {
    type: 'scatter',
    plugins: [frame],
    data: { datasets: [
      { label: 'real', data: pairs(BLUE_GRID[r][c]), backgroundColor: '#1f77b4', borderWidth: 0, pointRadius: 6.8, order: 2 },
      { label: 'generated', data: pairs(ORANGE_GRID[r][c]), backgroundColor: '#ff7f0e', borderWidth: 0, pointRadius: 6.2, order: 1 }
    ] },
    options: {
      responsive: false, animation: false, devicePixelRatio: 1,
      layout: { autoPadding: false, padding: { top: PAD, right: PAD, left: 0, bottom: 0 } },
      plugins: { legend: { display: false }, tooltip: { enabled: false } },
      scales: {
        x: { type: 'linear', min: 0, max: W, ticks: { display: false }, grid: { display: false }, border: { display: false },
             afterFit: s => { s.height = BOTTOM; },
             title: { display: r === 3, text: e, color: '#000', font, padding: { top: 0, bottom: 13 } } },
        y: { type: 'linear', reverse: true, min: 0, max: H, ticks: { display: false }, grid: { display: false }, border: { display: false },
             afterFit: s => { s.width = LEFT; },
             title: { display: c === 0, text: m, color: '#000', font, padding: { top: 24, bottom: 0 } } }
      }
    }
  });
}));
</script>
</body></html>
